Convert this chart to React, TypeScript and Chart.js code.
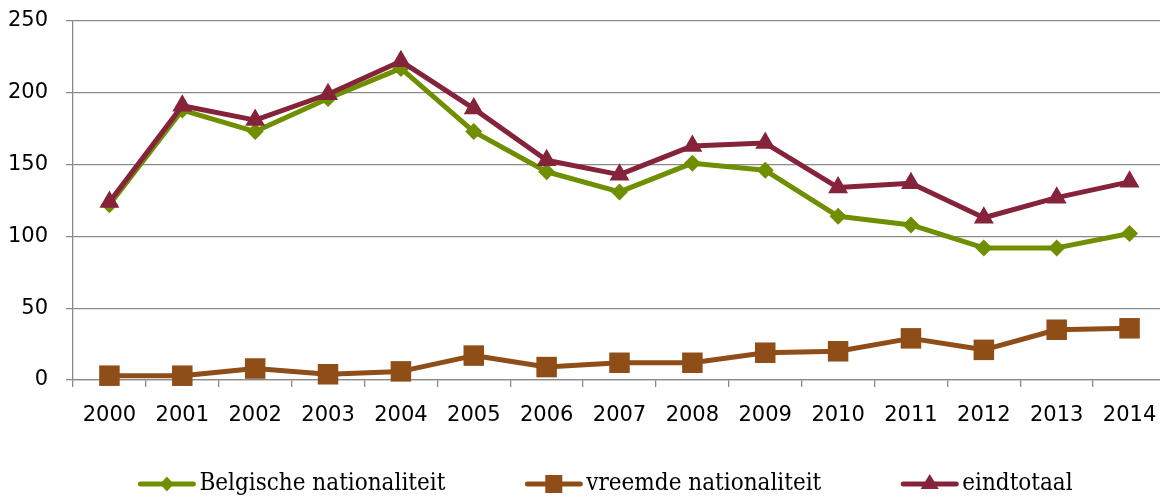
import React, { useEffect, useRef } from "react";
import { Chart, registerables } from "chart.js";

Chart.register(...registerables);

const years = ["2000", "2001", "2002", "2003", "2004", "2005", "2006", "2007", "2008", "2009", "2010", "2011", "2012", "2013", "2014"];
const belgische = [122, 188, 173, 196, 217, 173, 145, 131, 151, 146, 114, 108, 92, 92, 102];
const vreemde = [3, 3, 8, 4, 6, 17, 9, 12, 12, 19, 20, 29, 21, 35, 36];
const eindtotaal = [124, 191, 181, 199, 222, 189, 153, 143, 163, 165, 134, 137, 113, 127, 138];
const seriesLabels = ["Belgische nationaliteit", "vreemde nationaliteit", "eindtotaal"];
const yMin = 0;
const yMax = 250;
const yStep = 50;

const GREEN = "#6f8e00";
const BROWN = "#8f4d18";
const MAROON = "#85233b";
const GRID = "#8a8a8a";

function drawMarker(ctx: CanvasRenderingContext2D, style: string, cx: number, cy: number, color: string) {
  ctx.fillStyle = color;
  ctx.beginPath();
  if (style === "rectRot") {
    const r = 7.5;
    ctx.moveTo(cx, cy - r);
    ctx.lineTo(cx + r * 0.9, cy);
    ctx.lineTo(cx, cy + r);
    ctx.lineTo(cx - r * 0.9, cy);
    ctx.closePath();
  } else if (style === "rect") {
    const s = 8.5;
    ctx.rect(cx - s, cy - s - 0.5, 2 * s, 2 * s + 1);
  } else {
    const r = 10;
    ctx.moveTo(cx, cy - r);
    ctx.lineTo(cx + r * 0.866 * 1.05, cy + r * 0.5);
    ctx.lineTo(cx - r * 0.866 * 1.05, cy + r * 0.5);
    ctx.closePath();
  }
  ctx.fill();
}

const customLegend = {
  id: "customLegend",
  afterDraw(chart: any) {
    const ctx: any = chart.ctx;
    ctx.save();
    ctx.font = '24px "DejaVu Serif Condensed", "DejaVu Serif"';
    try {
      ctx.fontStretch = "condensed";
    } catch (e) {}
    ctx.textBaseline = "middle";
    ctx.textAlign = "left";
    const markerW = 57;
    const gapText = 4;
    const gapItem = 80;
    const items = chart.data.datasets.map((ds: any) => ({
      text: ds.label as string,
      color: ds.borderColor as string,
      style: ds.pointStyle as string,
    }));
    const widths = items.map((it: any) => markerW + gapText + ctx.measureText(it.text).width);
    const total = widths.reduce((a: number, b: number) => a + b, 0) + gapItem * (items.length - 1);
    const centerX = (chart.chartArea.left + chart.chartArea.right) / 2 - 14;
    let x = centerX - total / 2;
    const y = 484;
    items.forEach((it: any, i: number) => {
      ctx.strokeStyle = it.color;
      ctx.lineWidth = 5;
      ctx.lineCap = "round";
      ctx.beginPath();
      ctx.moveTo(x + 2, y);
      ctx.lineTo(x + markerW - 2, y);
      ctx.stroke();
      drawMarker(ctx, it.style, x + markerW / 2, y, it.color);
      ctx.fillStyle = "#000";
      ctx.fillText(it.text, x + markerW + gapText, y);
      x += widths[i] + gapItem;
    });
    ctx.restore();
  },
};

export default function App() {
  const ref = useRef<HTMLCanvasElement | null>(null);

  useEffect(() => {
    if (!ref.current) return;
    const tickFont = { family: "DejaVu Sans", size: 21 };
    const common = {
      pointBorderWidth: 0,
      borderWidth: 5,
      tension: 0,
      borderJoinStyle: "round",
      clip: false,
    };
    const chart = new Chart(ref.current, {
      type: "line",
      data: {
        labels: years,
        datasets: [
          {
            ...common,
            label: seriesLabels[0],
            data: belgische,
            borderColor: GREEN,
            backgroundColor: GREEN,
            pointBackgroundColor: GREEN,
            pointBorderColor: GREEN,
            pointStyle: "rectRot",
            pointRadius: 8.5,
            pointHoverRadius: 8.5,
            order: 3,
          },
          {
            ...common,
            label: seriesLabels[1],
            data: vreemde,
            borderColor: BROWN,
            backgroundColor: BROWN,
            pointBackgroundColor: BROWN,
            pointBorderColor: BROWN,
            pointStyle: "rect",
            pointRadius: 14.5,
            pointHoverRadius: 14.5,
            order: 2,
          },
          {
            ...common,
            label: seriesLabels[2],
            data: eindtotaal,
            borderColor: MAROON,
            backgroundColor: MAROON,
            pointBackgroundColor: MAROON,
            pointBorderColor: MAROON,
            pointStyle: "triangle",
            pointRadius: 11.5,
            pointHoverRadius: 11.5,
            order: 1,
          },
        ],
      },
      options: {
        responsive: false,
        animation: false,
        layout: { autoPadding: false, padding: { top: 21, right: 4, left: 0, bottom: 0 } },
        plugins: {
          legend: { display: false },
          tooltip: { enabled: false },
        },
        scales: {
          x: {
            type: "category",
            offset: true,
            grid: {
              offset: true,
              drawOnChartArea: false,
              drawTicks: true,
              tickLength: 7,
              color: GRID,
              lineWidth: 1.3,
            },
            border: { display: true, color: GRID, width: 1.3 },
            ticks: {
              font: tickFont,
              color: "#000",
              padding: 16,
              maxRotation: 0,
              autoSkip: false,
            },
            afterFit(scale: any) {
              scale.height = 117;
              scale.paddingLeft = 0;
              scale.paddingRight = 0;
            },
          },
          y: {
            min: yMin,
            max: yMax,
            grid: {
              color: GRID,
              lineWidth: 1.3,
              drawTicks: true,
              tickLength: 7,
            },
            border: { display: true, color: GRID, width: 1.3 },
            ticks: {
              stepSize: yStep,
              font: tickFont,
              color: "#000",
              padding: 18,
            },
            afterFit(scale: any) {
              scale.width = 73;
              scale.paddingTop = 0;
              scale.paddingBottom = 0;
            },
          },
        },
      } as any,
      plugins: [customLegend],
    });
    return () => chart.destroy();
  }, []);

  return (
    <div style={{ position: "absolute", left: 0, top: 0, width: 1160, height: 497, overflow: "hidden", background: "#fff" }}>
      <canvas ref={ref} width={1170} height={497} style={{ width: 1170, height: 497, display: "block" }} />
    </div>
  );
}
